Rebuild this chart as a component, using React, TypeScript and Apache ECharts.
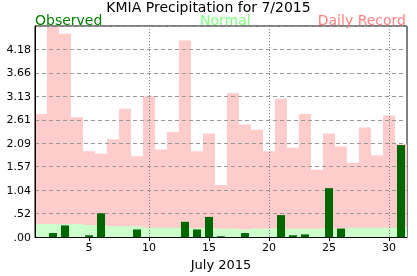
import React, { useEffect, useRef } from "react";
import * as echarts from "echarts";

const days = ["1","2","3","4","5","6","7","8","9","10","11","12","13","14","15","16","17","18","19","20","21","22","23","24","25","26","27","28","29","30","31"];
const recordValues = [2.74, 4.68, 4.53, 2.67, 1.91, 1.86, 2.18, 2.86, 1.80, 3.14, 1.95, 2.34, 4.38, 1.91, 2.31, 1.16, 3.21, 2.51, 2.39, 1.91, 3.08, 1.99, 2.74, 1.50, 2.31, 2.02, 1.65, 2.44, 1.82, 2.71, 2.07];
const normalValues = [0.29, 0.29, 0.29, 0.29, 0.27, 0.25, 0.24, 0.24, 0.24, 0.21, 0.21, 0.21, 0.21, 0.20, 0.20, 0.19, 0.19, 0.17, 0.19, 0.19, 0.19, 0.19, 0.19, 0.19, 0.19, 0.19, 0.21, 0.21, 0.21, 0.21, 0.21];
const observedValues = [0, 0.09, 0.26, 0, 0.04, 0.53, 0, 0, 0.17, 0, 0, 0, 0.34, 0.17, 0.45, 0.02, 0, 0.09, 0, 0, 0.49, 0.04, 0.06, 0, 1.09, 0.19, 0, 0, 0, 0, 2.05];
const yTickLabels = [".00", ".52", "1.04", "1.57", "2.09", "2.61", "3.13", "3.66", "4.18", ""];
const yStep = 0.5225;
const yMax = 4.7025;
const dottedDays = ["10", "20", "30"];

const FONT = "DejaVu Sans";

export default function App() {
  const ref = useRef<HTMLDivElement>(null);
  useEffect(() => {
    if (!ref.current) return;
    const chart = echarts.init(ref.current, undefined, { renderer: "svg" });
    const legendStyle = (color: string) => ({
      fontFamily: FONT, fontSize: 14, fontWeight: "normal", color, lineHeight: 13,
    });
    chart.setOption({
      animation: false,
      title: [
        { text: "KMIA Precipitation for 7/2015", left: "center", top: 0, padding: 0,
          textStyle: { fontFamily: FONT, fontSize: 14, fontWeight: "normal", color: "#000", lineHeight: 13 } },
        { text: "Observed", left: 35, top: 13, padding: 0, textStyle: legendStyle("#008000") },
        { text: "Normal", left: 200, top: 13, padding: 0, textStyle: legendStyle("#80ff80") },
        { text: "Daily Record", right: 11, top: 13, padding: 0, textStyle: legendStyle("#ff8080") },
      ],
      grid: { left: 35, right: 10, top: 26, bottom: 30, show: true, borderColor: "#000", borderWidth: 1, backgroundColor: "transparent" },
      xAxis: [
        {
          type: "category",
          data: days,
          z: 3,
          name: "July 2015",
          nameLocation: "middle",
          nameGap: 15,
          nameTextStyle: { fontFamily: FONT, fontSize: 13, color: "#000" },
          axisLine: { lineStyle: { color: "#000", width: 1 } },
          axisTick: { show: true, alignWithLabel: true, length: 4, lineStyle: { color: "#000" } },
          axisLabel: {
            fontFamily: FONT, fontSize: 11, color: "#000", margin: 5,
            interval: (i: number) => (i + 1) % 5 === 0,
          },
          splitLine: { show: false },
        },
        {
          type: "category",
          data: days,
          show: false,
        },
      ],
      yAxis: {
        type: "value",
        min: 0,
        max: yMax,
        interval: yStep,
        z: 3,
        axisLine: { show: true, lineStyle: { color: "#000" } },
        axisTick: { show: false },
        axisLabel: {
          fontFamily: FONT, fontSize: 11, color: "#000", margin: 4,
          formatter: (v: number) => yTickLabels[Math.round(v / yStep)] ?? "",
        },
        splitLine: { show: true, lineStyle: { color: "#999", type: [4, 3], width: 1 } },
      },
      series: [
        {
          name: "Daily Record",
          type: "bar",
          data: recordValues,
          barWidth: "100%",
          barGap: "-100%",
          itemStyle: { color: "#ffcccc" },
          z: 1,
        },
        {
          name: "Normal",
          type: "bar",
          data: normalValues,
          barWidth: "100%",
          barGap: "-100%",
          itemStyle: { color: "#ccffcc" },
          z: 2,
        },
        {
          name: "Observed",
          type: "bar",
          xAxisIndex: 1,
          data: observedValues,
          barWidth: 8,
          itemStyle: { color: "#006600" },
          z: 4,
          markLine: {
            silent: true,
            symbol: "none",
            label: { show: false },
            lineStyle: { color: "#777", type: [1, 2], width: 1 },
            data: dottedDays.map((d) => ({ xAxis: d })),
          },
        },
      ],
    });
    return () => chart.dispose();
  }, []);
  return <div ref={ref} style={{ position: "fixed", left: 0, top: 0, width: 417, height: 276 }} />;
}
